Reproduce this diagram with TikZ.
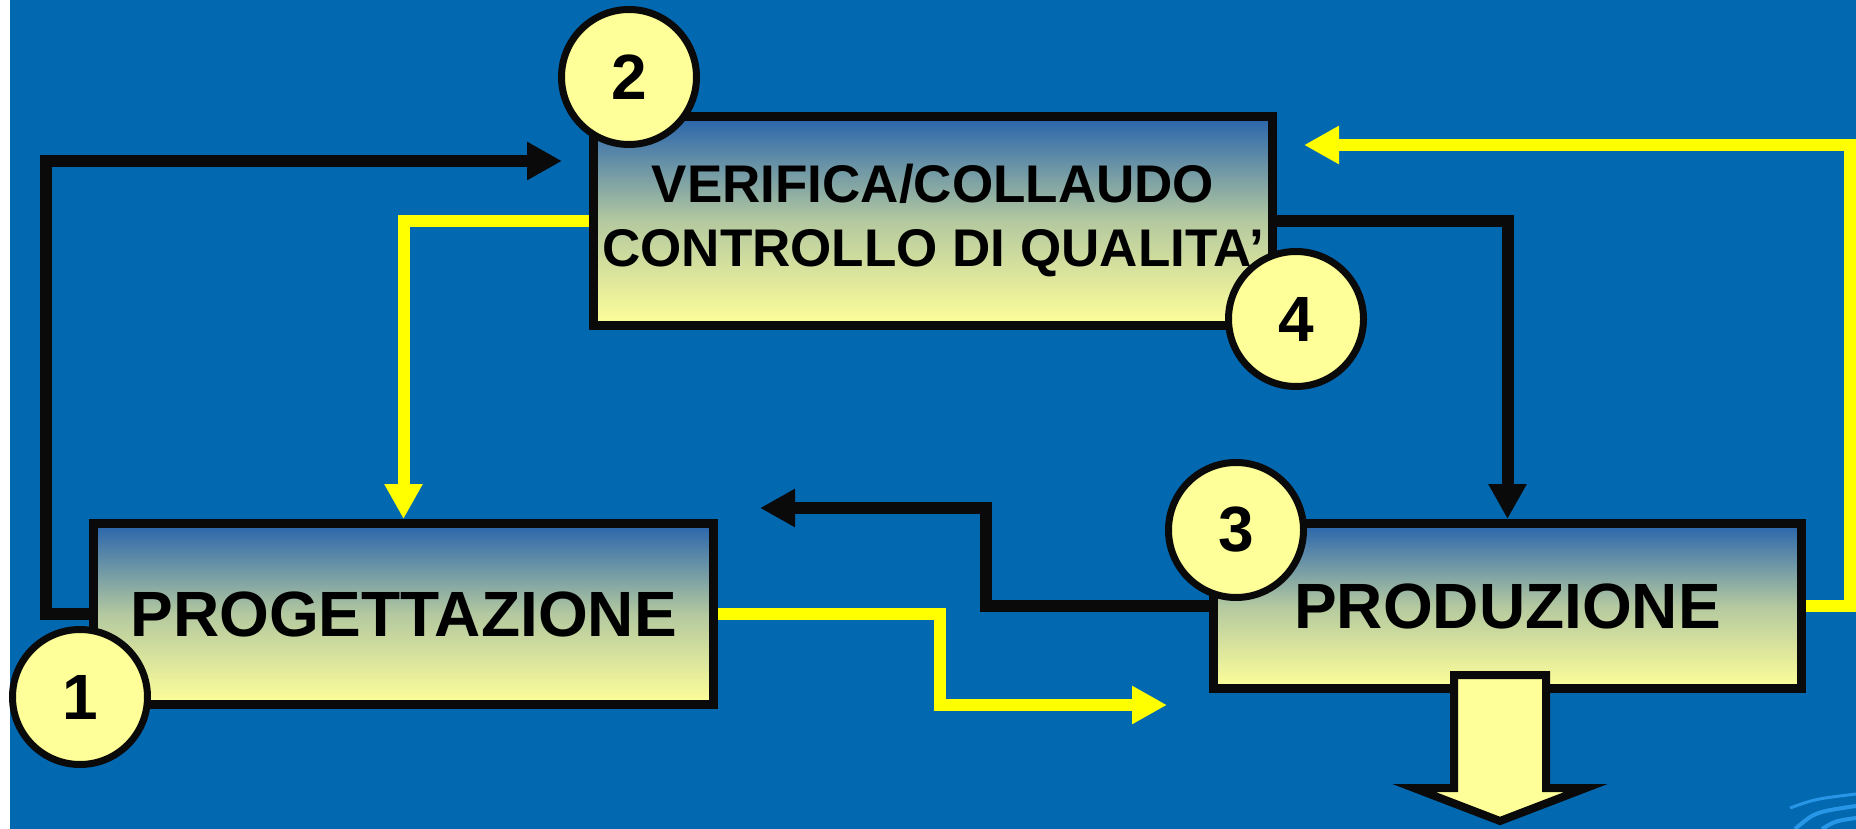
\documentclass[tikz,border=0pt]{standalone}
\usepackage{fontspec}
\setmainfont{Liberation Sans}
\usetikzlibrary{arrows.meta}
\definecolor{bgblue}{RGB}{2,104,176}
\definecolor{boxtop}{RGB}{40,100,172}
\definecolor{boxbot}{RGB}{255,255,153}
\definecolor{linyel}{RGB}{255,255,0}
\definecolor{linblk}{RGB}{10,10,10}
\definecolor{swirl}{RGB}{40,150,230}
\tikzset{
  phase/.style={draw=linblk, line width=9pt, top color=boxtop, bottom color=boxbot,
    middle color=boxbot!65!boxtop, inner sep=0pt, align=center,
    font=\fontsize{64}{70}\selectfont\bfseries},
  stepno/.style={circle, draw=linblk, line width=7pt, fill=boxbot, minimum size=135pt,
    inner sep=0pt, font=\fontsize{64}{70}\selectfont\bfseries},
  blkflow/.style={draw=linblk, line width=12pt, -{Triangle[length=35pt,width=36pt]}},
  yelflow/.style={blkflow, draw=linyel},
}
\begin{document}
\begin{tikzpicture}[x=1pt,y=-1pt]
                \useasboundingbox (0,0) rectangle (1856,829);
                \fill[white] (0,0) rectangle (10,829);
                \fill[bgblue] (10,0) rectangle (1856,829);
                \draw[swirl, line width=3pt] (1790,808) .. controls (1815,799) .. (1856,794);
                \draw[swirl, line width=4pt] (1795,829) .. controls (1815,812) .. (1856,806);
                \draw[swirl, line width=4pt] (1822,829) .. controls (1835,821) .. (1856,818);
                \node[phase, minimum width=620pt, minimum height=181pt] (progett) at (403.5,614) {PROGETTAZIONE};
                \node[phase, minimum width=679pt, minimum height=209pt,
                  font=\fontsize{53}{64}\selectfont\bfseries] (verifica) at (933,221) {VERIFICA/COLLAUDO\\CONTROLLO DI QUALITA’};
                \node[phase, minimum width=588pt, minimum height=165pt] (produz) at (1507.5,606) {PRODUZIONE};
                \coordinate (toverif) at (562,161);
                \coordinate (toprod) at (1167,705);
                \coordinate (toprog) at (760,508);
                \coordinate (backverif) at (1304,145);
                \draw[blkflow] (progett.west) -| (46,161) -- (toverif);
                \draw[yelflow] (verifica.west) -| (progett.north);
                \draw[blkflow] (verifica.east) -| (produz.north);
                \draw[yelflow] (progett.east) -| (940,705) -- (toprod);
                \draw[blkflow] (produz.west) -| (986,508) -- (toprog);
                \draw[yelflow] (produz.east) -| (1850,145) -- (backverif);
                \draw[draw=linblk, fill=boxbot, line width=8pt] (1454,675) -- (1546,675) -- (1546,788) -- (1586,788)
                  -- (1500,821) -- (1414,788) -- (1454,788) -- cycle;
                \node[stepno] (uno) at (80,697) {1};
                \node[stepno] (due) at (629,77) {2};
                \node[stepno] (tre) at (1236,530) {3};
                \node[stepno] (quattro) at (1296,319) {4};
            \end{tikzpicture}
\end{document}
